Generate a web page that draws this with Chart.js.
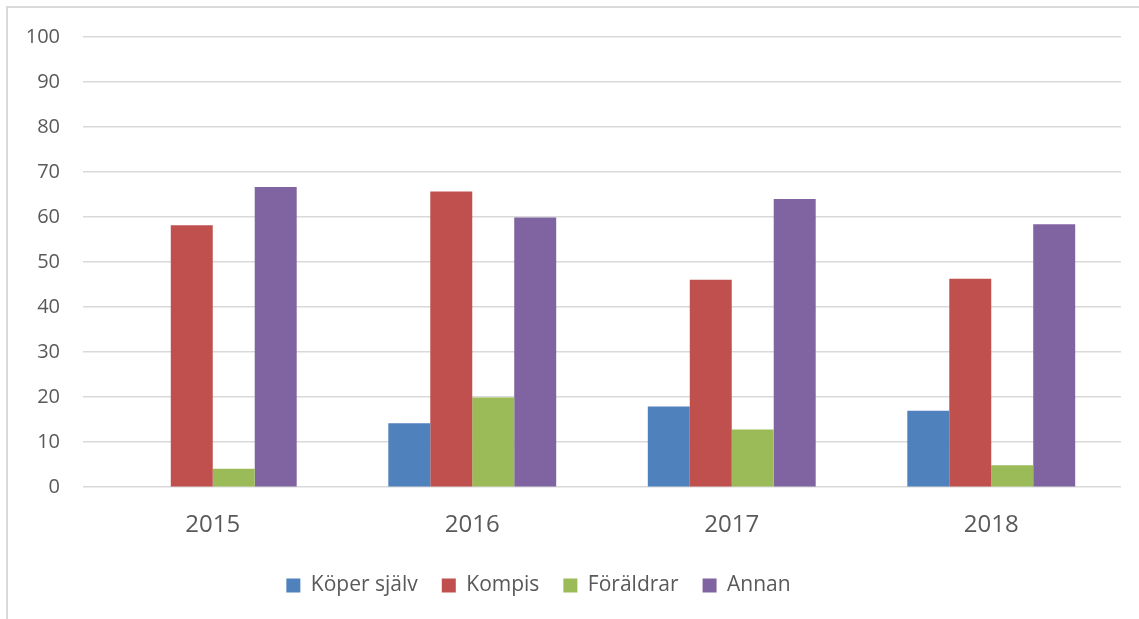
<!DOCTYPE html>
<html>
<head>
<meta charset="utf-8">
<script src="https://cdn.jsdelivr.net/npm/chart.js@4.4.1/dist/chart.umd.min.js"></script>
<style>
    html, body { margin: 0; padding: 0; background: #ffffff; overflow: hidden; }
    #frame {
        position: absolute; left: 6px; top: 6px; width: 2000px; height: 2000px;
        border-top: 2px solid #d9d9d9; border-left: 2px solid #d9d9d9;
    }
    #wrap { position: absolute; left: 0; top: 0; width: 1139px; height: 619px; }
</style>
</head>
<body>
<div id="frame"></div>
<div id="wrap"><canvas id="chart_container" width="1139" height="619"></canvas></div>
<script>
    // values
    const years = ['2015', '2016', '2017', '2018'];
    const koperSjalv = [0, 14.2, 17.9, 17.0];
    const kompis = [58.2, 65.7, 46.1, 46.3];
    const foraldrar = [4.1, 19.9, 12.8, 4.9];
    const annan = [66.7, 59.9, 64.0, 58.4];
    const yTicks = [0, 10, 20, 30, 40, 50, 60, 70, 80, 90, 100];

    const TEXT_COLOR = '#595959';
    const GRID_COLOR = '#d9d9d9';
    const FONT = "'Open Sans', sans-serif";

    // move the legend to where the original one sits
    const LEGEND_DX = -26;
    const LEGEND_DY = -13;
    const legendShift = {
        id: 'legendShift',
        afterLayout(chart) {
            chart.legend.left += LEGEND_DX;
            chart.legend.right += LEGEND_DX;
            chart.legend.top += LEGEND_DY;
            chart.legend.bottom += LEGEND_DY;
        }
    };

    const chart_ctx = document.getElementById('chart_container');

    const chart = new Chart(chart_ctx, {
        type: 'bar',
        data: {
            labels: years,
            datasets: [
                { label: 'Köper själv', data: koperSjalv, backgroundColor: '#4f81bd' },
                { label: 'Kompis', data: kompis, backgroundColor: '#c0504d' },
                { label: 'Föräldrar', data: foraldrar, backgroundColor: '#9bbb59' },
                { label: 'Annan', data: annan, backgroundColor: '#8064a2' }
            ]
        },
        options: {
            animation: false,
            responsive: false,
            maintainAspectRatio: false,
            datasets: {
                bar: { categoryPercentage: 0.647, barPercentage: 1.0, borderWidth: 0 }
            },
            layout: { padding: { left: 8, right: 18, top: 37, bottom: 0 } },
            scales: {
                x: {
                    grid: { display: false, drawTicks: false },
                    border: { display: false },
                    ticks: { color: TEXT_COLOR, font: { family: FONT, size: 24 }, padding: 24 }
                },
                y: {
                    min: 0,
                    max: 100,
                    afterBuildTicks: (scale) => { scale.ticks = yTicks.map(v => ({ value: v })); },
                    afterFit: (scale) => { scale.width = 75; },
                    grid: { color: GRID_COLOR, lineWidth: 1.5, drawTicks: false },
                    border: { display: false },
                    ticks: { color: TEXT_COLOR, font: { family: FONT, size: 20 }, padding: 23 }
                }
            },
            plugins: {
                tooltip: { enabled: false },
                legend: {
                    position: 'bottom',
                    labels: {
                        color: TEXT_COLOR,
                        font: { family: FONT, size: 21 },
                        boxWidth: 14,
                        boxHeight: 14,
                        padding: 24
                    }
                }
            }
        },
        plugins: [legendShift]
    });
</script>
</body>
</html>
